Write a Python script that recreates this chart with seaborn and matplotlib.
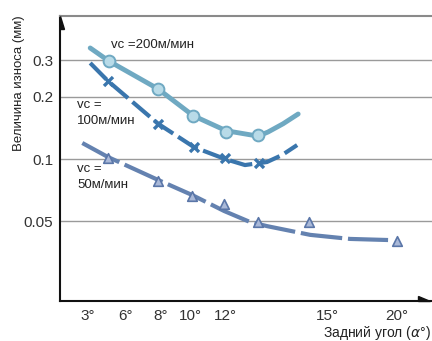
import matplotlib
matplotlib.use("Agg")
import matplotlib.pyplot as plt
import seaborn as sns
import numpy as np
from matplotlib.patches import Polygon

# ---- data (x in tick-position units) ----
tick_pos = [0, 1.08, 2.1, 2.97, 3.99, 4.95, 6.0, 6.96, 8.04, 9.0]
tick_labels = ["3°", "6°", "8°", "10°", "12°", "", "", "15°", "", "20°"]

y_ticks = [0.05, 0.1, 0.2, 0.3]
y_tick_labels = ["0.05", "0.1", "0.2", "0.3"]

# vc = 200 m/min
c200_x = [0.06, 0.61, 2.04, 3.06, 4.02, 4.95, 5.24, 5.68, 6.12]
c200_y = [0.344, 0.297, 0.218, 0.162, 0.137, 0.129, 0.135, 0.148, 0.165]
m200_x = [0.61, 2.04, 3.06, 4.02, 4.95]
m200_y = [0.297, 0.218, 0.161, 0.135, 0.131]

# vc = 100 m/min
c100_x = [0.06, 0.58, 2.04, 3.09, 3.99, 4.57, 5.21, 5.65, 6.09]
c100_y = [0.291, 0.238, 0.148, 0.114, 0.100, 0.0935, 0.0967, 0.1045, 0.1168]
m100_x = [0.58, 2.04, 3.09, 3.99, 4.98]
m100_y = [0.238, 0.148, 0.114, 0.101, 0.0957]

# vc = 50 m/min
c50_x = [-0.17, 0.58, 2.04, 3.03, 3.96, 4.72, 5.21, 6.47, 7.63, 8.74]
c50_y = [0.1195, 0.1022, 0.0792, 0.067, 0.0561, 0.0496, 0.0474, 0.0430, 0.0411, 0.0406]
m50_x = [0.58, 2.04, 3.03, 3.96, 4.95, 6.44, 9.0]
m50_y = [0.101, 0.0783, 0.0663, 0.0606, 0.0496, 0.0496, 0.0402]

col200 = "#6fa9c2"
col100 = "#3a76ad"
col50 = "#6482b0"

sns.set_style("white")
plt.rcParams["font.family"] = ["Liberation Sans", "DejaVu Sans"]

fig = plt.figure(figsize=(4.32, 3.41), dpi=100)
ax = fig.add_axes([60/432, 40/341, 372/432, 285/341])
ax.set_yscale("log")

# curves
sns.lineplot(x=c200_x, y=c200_y, ax=ax, sort=False, color=col200, linewidth=3.5)
sns.lineplot(x=c100_x, y=c100_y, ax=ax, sort=False, color=col100, linewidth=3.0)
ax.lines[-1].set_dashes((5.5, 1.4))
sns.lineplot(x=c50_x, y=c50_y, ax=ax, sort=False, color=col50, linewidth=3.0)
ax.lines[-1].set_dashes((10, 1.4))

# markers
sns.scatterplot(x=m200_x, y=m200_y, ax=ax, marker="o", s=72,
                facecolor="#b8dbe8", edgecolor=col200, linewidth=1.4, zorder=5)
sns.scatterplot(x=m100_x, y=m100_y, ax=ax, marker="x", s=42,
                color=col100, linewidth=2.4, zorder=5)
sns.scatterplot(x=m50_x, y=m50_y, ax=ax, marker="^", s=48,
                facecolor="#aab9d8", edgecolor="#5a76a8", linewidth=1.2, zorder=5)

# axes
ax.set_xlim(-0.82, 10.02)
ax.set_ylim(0.0206, 0.491)
ax.set_xticks(tick_pos)
ax.set_xticklabels(tick_labels)
ax.set_yticks(y_ticks)
ax.set_yticklabels(y_tick_labels)
ax.minorticks_off()
ax.yaxis.set_minor_locator(matplotlib.ticker.NullLocator())
ax.tick_params(axis="x", direction="in", length=9, width=1.0, color="#444444",
               labelsize=11, pad=6, labelcolor="#333333")
ax.tick_params(axis="y", length=0, labelsize=11, pad=5, labelcolor="#333333")
ax.grid(False)
for yv in y_ticks:
    ax.axhline(yv, color="#9a9a9a", linewidth=1.0, zorder=0)

for s in ["left", "bottom"]:
    ax.spines[s].set_color("#111111")
    ax.spines[s].set_linewidth(1.5)
ax.spines["top"].set_color("#8a8a8a")
ax.spines["top"].set_linewidth(1.5)
ax.spines["right"].set_visible(False)

# arrow heads
ax.add_patch(Polygon([[0.0, 1.0], [0.0, 0.955], [0.012, 0.955]], closed=True,
                     transform=ax.transAxes, color="#111111", clip_on=False, zorder=6))
ax.add_patch(Polygon([[0.995, 0.0], [0.962, 0.0], [0.962, 0.018]], closed=True,
                     transform=ax.transAxes, color="#111111", clip_on=False, zorder=6))

# labels on curves
ax.text(0.137, 0.898, "vc =200м/мин", transform=ax.transAxes, fontsize=9.5,
        color="#222222", va="center", ha="left")
ax.text(0.046, 0.661, "vc =\n100м/мин", transform=ax.transAxes, fontsize=9.5,
        color="#222222", va="center", ha="left", linespacing=1.45)
ax.text(0.046, 0.435, "vc =\n50м/мин", transform=ax.transAxes, fontsize=9.5,
        color="#222222", va="center", ha="left", linespacing=1.45)

fig.text(19/432, 1 - 83/341, "Величина износа (мм)", rotation=90,
         ha="center", va="center", fontsize=9.5, color="#222222")
fig.text(431/432, 1 - 333/341, "Задний угол ($\\alpha$°)", ha="right",
         va="center", fontsize=10, color="#222222")

fig.savefig("out.png", dpi=100)
